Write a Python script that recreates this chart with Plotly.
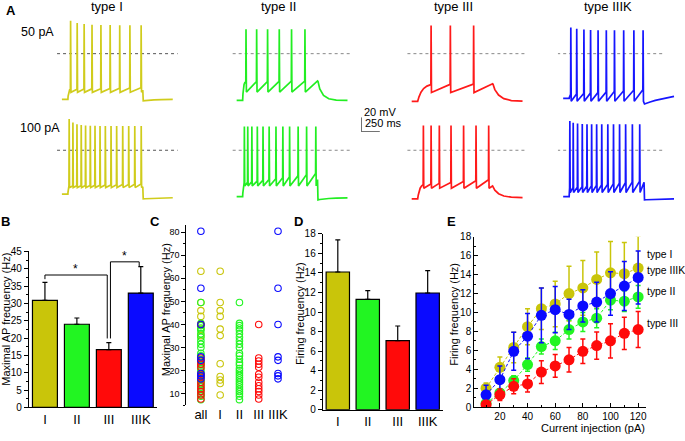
import math
import plotly.graph_objects as go

W, H = 685, 441


def fx(px):
    return px / W


def fy(py):
    return 1 - py / H


FONT = "Liberation Sans, Arial, sans-serif"

# ---------------- Panel A data ----------------
type_names = ["type I", "type II", "type III", "type IIIK"]
current_labels = ["50 pA", "100 pA"]
# spike times (ms after current-step onset, 1 s step)
spk_I_50 = [36, 124, 217, 322, 441, 564, 692, 828, 978]
spk_II_50 = [45, 187, 333, 489, 653, 832]
spk_III_50 = [179, 436, 747]
spk_IIIK_50 = [22, 101, 197, 286, 386, 496, 605, 728, 864, 987]
spk_I_100 = [17, 67, 121, 178, 236, 299, 362, 429, 500, 576, 651, 732, 812, 893, 979]
spk_II_100 = [23, 68, 123, 196, 272, 354, 445, 537, 627, 741, 854, 977]
spk_III_100 = [76, 179, 289, 445, 613, 779, 948]
spk_IIIK_100 = [9, 54, 112, 175, 238, 300, 367, 435, 516, 592, 673, 754, 844, 942]
# membrane levels (mV): rest, AHP trough, pre-spike early, pre-spike late,
# first peak, later peak, end-of-step level, post-step level, recovery level
lv_I_50 = [-62.7, -53, -49, -46.7, 45, 39, -50, -64.7, -62.7]
lv_II_50 = [-64, -52.7, -38.7, -37.3, 33.3, 33.3, -37.3, -38, -64]
lv_III_50 = [-65.3, -53.3, -42.7, -41.3, 38.7, 38.7, -41.3, -42, -65.3]
lv_IIIK_50 = [-61.3, -65.3, -56, -49.3, 36, 32, -52, -69, -50]
lv_I_100 = [-60, -51.2, -49, -46.3, 43, 33.3, -50, -66.7, -64.5]
lv_II_100 = [-63.6, -48.9, -44.9, -31.6, 32.4, 32.4, -40, -68, -65]
lv_III_100 = [-66.7, -52, -47.6, -40, 34, 34, -48.9, -50, -65]
lv_IIIK_100 = [-63.6, -57.9, -51.6, -42.2, 40, 35.5, -44, -68, -66.3]
# time constants (ms): charging at onset, relaxation after step
tau_on = [[8, 10, 60, 8], [6, 8, 25, 6]]
tau_off = [[120, 60, 80, 500], [300, 150, 80, 300]]

# ---------------- Panel B / D data ----------------
groups = ["I", "II", "III", "IIIK"]
maxap_mean = [30.9, 24.0, 16.7, 33.0]
maxap_sem = [5.2, 1.8, 2.0, 7.6]
fir_mean = [14.1, 11.3, 7.07, 11.95]
fir_sem = [3.3, 0.9, 1.5, 2.3]

# ---------------- Panel C data ----------------
c_cats = ["all", "I", "II", "III", "IIIK"]
c_I = [63, 49.5, 46, 43.5, 38, 35.2, 23, 17.5, 16, 14.5, 9.5]
c_II = [49.5, 40.5, 39.5, 38.5, 37.5, 36, 34.5, 33, 31.5, 30, 27.5, 26.5, 25,
        23.5, 22.5, 21, 20, 19, 18, 17, 16, 15, 14, 13, 12, 11, 10, 9, 7.5]
c_III = [40, 25.5, 24.2, 22.8, 21.5, 18.5, 17.2, 15, 13.5, 12.2, 11, 9.5, 7.8]
c_IIIK = [80.3, 55.7, 40, 26, 24.5, 18.8, 17.8, 16.5]

# ---------------- Panel E data ----------------
current_pA = [10, 20, 30, 40, 50, 60, 70, 80, 90, 100, 110, 120]
e_I = [2.0, 4.2, 6.3, 8.5, 10.4, 10.9, 12.0, 12.6, 13.5, 14.2, 14.1, 14.7]
e_I_err = [0.55, 1.1, 1.6, 1.9, 2.2, 2.4, 2.9, 2.9, 2.9, 3.3, 3.3, 3.4]
e_IIIK = [1.3, 2.9, 5.9, 7.5, 9.7, 10.3, 9.8, 10.7, 11.1, 12.0, 12.8, 13.7]
e_IIIK_err = [1.0, 1.45, 2.0, 2.4, 2.9, 2.45, 1.6, 1.7, 2.1, 2.3, 2.6, 2.8]
e_II = [0.4, 1.5, 2.8, 4.5, 6.4, 7.0, 8.2, 9.0, 9.4, 11.3, 11.2, 11.65]
e_II_err = [0.2, 0.3, 0.5, 0.7, 0.8, 0.9, 1.0, 1.0, 1.0, 1.0, 1.1, 1.2]
e_III = [0.25, 1.3, 2.2, 2.45, 3.7, 4.35, 5.0, 5.9, 6.5, 7.0, 7.8, 8.2]
e_III_err = [0.4, 0.6, 0.8, 0.85, 1.2, 1.2, 1.3, 1.3, 1.45, 1.8, 1.7, 1.9]

# ---------------- colours ----------------
BAR_COL = ["#c9c50a", "#22f522", "#ff0a0a", "#0a0aff"]
TR_COL = ["#d0cc1c", "#22ee22", "#ff1a1a", "#1616ff"]


def wave(spk, lv, t_on, t_off, t_start=-80, t_stop=1400):
    rest, trough, pre0, pre1, pk0, pk1, end_lv, post, rec = lv
    t = [t_start, 0.0]
    v = [rest, rest]
    first = spk[0] - 3
    den = 1 - math.exp(-first / t_on)
    for f in (0.1, 0.25, 0.45, 0.7):
        tt = first * f
        t.append(tt)
        v.append(rest + (pre0 - rest) * (1 - math.exp(-tt / t_on)) / den)
    for i, s in enumerate(spk):
        pre = pre0 + (pre1 - pre0) * s / 1000
        pk = pk1 + (pk0 - pk1) * 0.5 ** i
        t += [s - 3, s, s + 5]
        v += [pre, pk, trough]
    if spk[-1] < 985:
        t.append(1000)
        v.append(end_lv)
    t.append(1006)
    v.append(post)
    for k in (30, 80, 150, 250, 400):
        t.append(1000 + k)
        v.append(rec + (post - rec) * math.exp(-k / t_off))
    return t, v


fig = go.Figure()
layout = {}

PX_MS = 0.075   # px per ms
PX_MV = 0.75    # px per mV
onset_px = [68, 243, 418.3, 570]
dash_px = [49, 148.3]
spikes = [[spk_I_50, spk_II_50, spk_III_50, spk_IIIK_50],
          [spk_I_100, spk_II_100, spk_III_100, spk_IIIK_100]]
levels = [[lv_I_50, lv_II_50, lv_III_50, lv_IIIK_50],
          [lv_I_100, lv_II_100, lv_III_100, lv_IIIK_100]]
dash_ext = [[-145, 1465], [-133, 1453], [-137, 1464], [-160, 1270]]

n = 0
for r in range(2):
    for c in range(4):
        n += 1
        xa, ya = f"x{n}", f"y{n}"
        layout[f"xaxis{n}"] = dict(domain=[fx(onset_px[c] - 150 * PX_MS), fx(onset_px[c] + 1500 * PX_MS)],
                                   range=[-150, 1500], visible=False, anchor=ya)
        layout[f"yaxis{n}"] = dict(domain=[fy(dash_px[r] + 80 * PX_MV), fy(dash_px[r] - 50 * PX_MV)],
                                   range=[-80, 50], visible=False, anchor=xa)
        fig.add_trace(go.Scatter(x=dash_ext[c], y=[0, 0], xaxis=xa, yaxis=ya, mode="lines",
                                 line=dict(color="#555555" if c == 0 else "#888888", width=1,
                                           dash="3px,3px"),
                                 hoverinfo="skip", showlegend=False))
        t, v = wave(spikes[r][c], levels[r][c], tau_on[r][c], tau_off[r][c])
        fig.add_trace(go.Scatter(x=t, y=v, xaxis=xa, yaxis=ya, mode="lines",
                                 line=dict(color=TR_COL[c], width=1.7),
                                 hoverinfo="skip", showlegend=False))

# scale bar axis (ms / mV)
scale_ms, scale_mv = 250, 20
layout["xaxis9"] = dict(domain=[fx(361.7), fx(361.7 + scale_ms * PX_MS)], range=[0, scale_ms],
                        visible=False, anchor="y9")
layout["yaxis9"] = dict(domain=[fy(129.3), fy(129.3 - scale_mv * PX_MV)], range=[0, scale_mv],
                        visible=False, anchor="x9")
fig.add_trace(go.Scatter(x=[0, 0, scale_ms], y=[scale_mv, 0, 0], xaxis="x9", yaxis="y9",
                         mode="lines", line=dict(color="black", width=1), hoverinfo="skip",
                         showlegend=False))

annotations = []
DY = -2.5  # baseline correction for vertically centred text


def txt(x, y, s, size=11, bold=False, xanchor="center", angle=0, color="black"):
    annotations.append(dict(x=fx(x), y=fy(y + (DY if angle == 0 else 0)), xref="paper", yref="paper",
                            text=f"<b>{s}</b>" if bold else s,
                            showarrow=False, xanchor=xanchor, yanchor="middle", textangle=angle,
                            font=dict(family=FONT, size=size, color=color)))


txt(11, 7, "A", 13, True)
for cx, name in zip([107.5, 279, 454.5, 609], type_names):
    txt(cx, 3, name, 13)
txt(37.5, 29, current_labels[0], 12.5)
txt(40, 127.5, current_labels[1], 12.5)
txt(363, 111, f"{scale_mv} mV", 11, xanchor="left")
txt(364, 122.5, f"{scale_ms} ms", 11, xanchor="left")


# common axis styling
def yax(domain, rng, dtick, minor, size=10, ticks="outside"):
    return dict(domain=domain, range=rng, dtick=dtick, tick0=0, showline=True, linecolor="black",
                linewidth=1.2, ticks=ticks, ticklen=4, tickwidth=1, tickcolor="black",
                minor=dict(dtick=minor, ticks=ticks, ticklen=2, tickcolor="black", tickwidth=1),
                showgrid=False, zeroline=False, tickfont=dict(family=FONT, size=size, color="black"))


def catax(domain, ncat, labels, anchor, line=True, rng=None):
    return dict(domain=domain, range=rng if rng else [-0.5, ncat - 0.5], tickmode="array",
                tickvals=list(range(ncat)), ticktext=labels, showline=line, linecolor="black",
                linewidth=1.2, ticks="", anchor=anchor, showgrid=False, zeroline=False,
                tickfont=dict(family=FONT, size=13, color="black"))


gpos = list(range(len(groups)))

# ---------------- Panel B ----------------
layout["xaxis10"] = catax([fx(29), fx(157)], 4, groups, "y10")
layout["yaxis10"] = yax([fy(412.7), fy(252.3)], [0, 45], 5, 2.5)
layout["yaxis10"]["anchor"] = "x10"
fig.add_trace(go.Bar(x=gpos, y=maxap_mean, xaxis="x10", yaxis="y10", width=0.78,
                     marker=dict(color=BAR_COL, line=dict(color="black", width=1.2)),
                     error_y=dict(type="data", array=maxap_sem, arrayminus=[0] * 4, symmetric=False,
                                  color="black", thickness=1.2, width=2.5),
                     showlegend=False, hoverinfo="skip"))
tops = [m + e for m, e in zip(maxap_mean, maxap_sem)]
br1_y = tops[0] + 2.1
br2_y = tops[3] + 1.4
for xs, ys in [([0, 0, 1.95, 1.95], [tops[0] + 0.9, br1_y, br1_y, tops[2] + 1.2]),
               ([2.05, 2.05, 2.95, 2.95], [tops[2] + 1.2, br2_y, br2_y, tops[3] + 0.2])]:
    fig.add_trace(go.Scatter(x=xs, y=ys, xaxis="x10", yaxis="y10", mode="lines",
                             line=dict(color="black", width=1), hoverinfo="skip", showlegend=False))
annotations.append(dict(x=0.97, y=br1_y, xref="x10", yref="y10", text="*", showarrow=False,
                        yanchor="bottom", yshift=-3, font=dict(family=FONT, size=12, color="black")))
annotations.append(dict(x=2.5, y=br2_y, xref="x10", yref="y10", text="*", showarrow=False,
                        yanchor="bottom", yshift=-3, font=dict(family=FONT, size=12, color="black")))
txt(6, 224, "B", 13, True)
txt(6.5, 322, "Maximal AP frequency (Hz)", 11, angle=-90)

# ---------------- Panel C ----------------
layout["xaxis11"] = catax([fx(186.7), fx(290)], 5, c_cats, "y11", line=False, rng=[-0.75, 4.6])
layout["yaxis11"] = yax([fy(410.6), fy(225.2)], [5, 83], 10, 5, size=9)
layout["yaxis11"]["anchor"] = "x11"
layout["yaxis11"]["tick0"] = 10
for gi, (vals, col) in enumerate(zip([c_I, c_II, c_III, c_IIIK], BAR_COL)):
    fig.add_trace(go.Scatter(x=[0] * len(vals) + [gi + 1] * len(vals), y=vals + vals,
                             xaxis="x11", yaxis="y11", mode="markers",
                             marker=dict(symbol="circle-open", size=6.5, color=col,
                                         line=dict(width=1.1, color=col)),
                             hoverinfo="skip", showlegend=False))
txt(155, 224, "C", 13, True)
txt(166, 312, "Maximal AP frequency (Hz)", 11, angle=-90)

# ---------------- Panel D ----------------
layout["xaxis12"] = catax([fx(323.3), fx(443.3)], 4, groups, "y12")
layout["yaxis12"] = yax([fy(415), fy(234.3)], [0, 18], 2, 1)
layout["yaxis12"]["anchor"] = "x12"
fig.add_trace(go.Bar(x=gpos, y=fir_mean, xaxis="x12", yaxis="y12", width=0.78,
                     marker=dict(color=BAR_COL, line=dict(color="black", width=1.2)),
                     error_y=dict(type="data", array=fir_sem, arrayminus=[0] * 4, symmetric=False,
                                  color="black", thickness=1.2, width=2.5),
                     showlegend=False, hoverinfo="skip"))
txt(299, 224, "D", 13, True)
txt(301, 316, "Firing frequency (Hz)", 11, angle=-90)

# ---------------- Panel E ----------------
layout["xaxis13"] = yax([fx(475), fx(646.7)], [1.5, 125.5], 20, 10, ticks="inside")
layout["xaxis13"]["anchor"] = "y13"
layout["yaxis13"] = yax([fy(412.3), fy(237.3)], [0, 18], 2, 1, ticks="inside")
layout["yaxis13"]["anchor"] = "x13"
for vals, errs, col in [(e_I, e_I_err, BAR_COL[0]), (e_II, e_II_err, BAR_COL[1]),
                        (e_IIIK, e_IIIK_err, BAR_COL[3]), (e_III, e_III_err, BAR_COL[2])]:
    fig.add_trace(go.Scatter(x=current_pA, y=vals, xaxis="x13", yaxis="y13", mode="lines+markers",
                             line=dict(color=col, width=1, dash="3px,2px"),
                             marker=dict(size=11, color=col),
                             error_y=dict(type="data", array=errs, color=col, thickness=1.5, width=2.5),
                             hoverinfo="skip", showlegend=False))
txt(452, 224, "E", 13, True)
txt(455, 317, "Firing frequency (Hz)", 11, angle=-90)
txt(594, 436, "Current injection (pA)", 11)
for y, name in zip([258, 296, 329, 274], type_names):
    txt(646, y, name, 10.4, xanchor="left")

fig.update_layout(width=W, height=H, margin=dict(l=0, r=0, t=0, b=0),
                  paper_bgcolor="white", plot_bgcolor="rgba(0,0,0,0)",
                  showlegend=False, annotations=annotations, **layout)
fig.write_html("out.html", config={"displayModeBar": False},
               post_script="document.body.style.margin='0';")
